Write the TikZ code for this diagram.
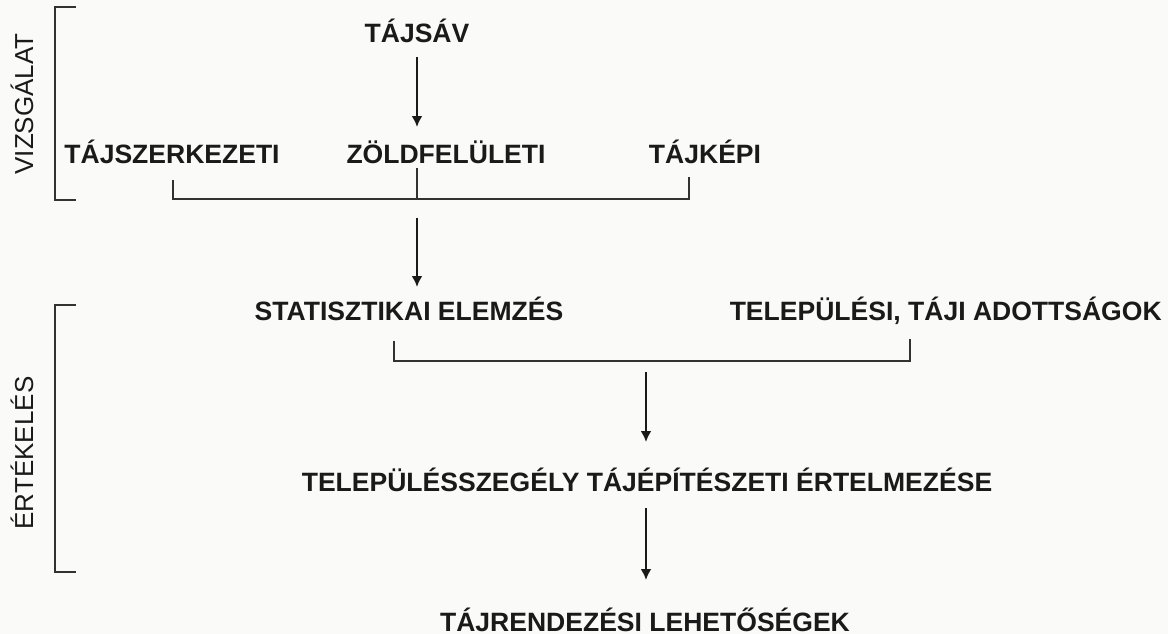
\documentclass[tikz,border=0pt]{standalone}
\usepackage{fontspec}
\setmainfont{Liberation Sans}
\usepackage{tikz}
\usetikzlibrary{arrows.meta,positioning,calc}
\definecolor{bgcol}{RGB}{250,250,248}
\definecolor{txtcol}{RGB}{26,26,26}
\definecolor{linecol}{RGB}{50,50,50}

\begin{document}
\begin{tikzpicture}[x=0.02cm, y=-0.02cm,
	lbl/.style={anchor=base, inner sep=0pt, text=txtcol, font=\fontsize{15.1}{17}\selectfont\bfseries},
	side/.style={rotate=90, inner sep=0pt, text=txtcol, font=\fontsize{14.8}{17}\selectfont},
	flow/.style={line width=1.4pt, draw=txtcol, -{Latex[length=2.2mm, width=2.2mm]}},
	brack/.style={line width=0.9pt, draw=linecol}]
		\fill [bgcol] (0,0) rectangle (1168,634);
		\useasboundingbox (0,0) rectangle (1168,634);
		% side labels and brackets
		\node [side](vizsg) at (22,104) {VIZSGÁLAT};
		\node [side](ertek) at (22,453) {ÉRTÉKELÉS};
		\draw [brack] (76,7) -- (55,7) -- (55,200) -- (76,200);
		\draw [brack] (76,305) -- (55,305) -- (55,572) -- (76,572);
		% nodes
		\node [lbl](tajsav) at (417,43) {TÁJSÁV};
		\node [lbl](tajszerk) at (172,164) {TÁJSZERKEZETI};
		\node [lbl](zold) at (446,164) {ZÖLDFELÜLETI};
		\node [lbl](tajkep) at (705,164) {TÁJKÉPI};
		\node [lbl](stat) at (409,321) {STATISZTIKAI ELEMZÉS};
		\node [lbl, anchor=base east](adott) at (1162,321) {TELEPÜLÉSI, TÁJI ADOTTSÁGOK};
		\node [lbl](ertelm) at (647,491) {TELEPÜLÉSSZEGÉLY TÁJÉPÍTÉSZETI ÉRTELMEZÉSE};
		\node [lbl](lehet) at (645,631) {TÁJRENDEZÉSI LEHETŐSÉGEK};
		% bracket joints
		\coordinate (j1) at (417,199);
		\coordinate (t1) at (417,168);
		\coordinate (j2) at (646,361);
		\coordinate (s2) at (j1 |- stat.base);
		\draw [brack] (173,180) |- (j1) -| (689,177);
		\draw [brack] (t1) -- (j1);
		\draw [brack] (394,341) |- (j2) -| (910,339);
		% arrows
		\draw [flow] ([yshift=-0.28cm]tajsav.base) -- ([yshift=0.82cm]t1);
		\draw [flow] ([yshift=-0.38cm]j1) -- ([yshift=0.68cm]s2);
		\draw [flow] ([yshift=-0.22cm]j2) -- ([xshift=-0.02cm, yshift=0.98cm]ertelm.base);
		\draw [flow] ([xshift=-0.02cm, yshift=-0.34cm]ertelm.base) -- ([xshift=0.02cm, yshift=1.02cm]lehet.base);
		\end{tikzpicture}
\end{document}
